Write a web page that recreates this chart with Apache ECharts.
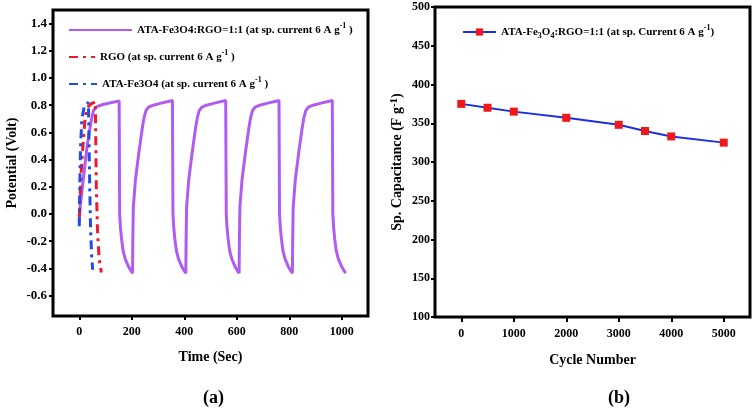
<!DOCTYPE html>
<html>
<head>
<meta charset="utf-8">
<script src="https://cdn.jsdelivr.net/npm/echarts@6/dist/echarts.min.js"></script>
<style>
  html, body { margin: 0; padding: 0; background: #fff; }
</style>
</head>
<body>
<div id="main" style="width:756px;height:408px"></div>
<script>
// (a) galvanostatic charge-discharge, [time, potential]
var hybridGcd = [
  [0, -0.05], [4, 0.06], [15, 0.25], [30, 0.5], [45, 0.68], [54, 0.76], [67, 0.79], [90, 0.805], [120, 0.818], [152, 0.832],
  [153, 0.4], [154, 0.0], [157, -0.1], [161, -0.18], [167, -0.27], [175, -0.33], [186, -0.38], [196, -0.415], [203, -0.435],
  [204, -0.2], [206, 0.05], [214, 0.25], [227, 0.45], [240, 0.63], [247, 0.71], [254, 0.76], [264, 0.785], [282, 0.8], [312, 0.815], [355, 0.835],
  [356, 0.4], [357, 0.0], [360, -0.1], [364, -0.18], [370, -0.27], [378, -0.33], [389, -0.38], [399, -0.415], [406, -0.435],
  [407, -0.2], [409, 0.05], [417, 0.25], [430, 0.45], [443, 0.63], [450, 0.71], [457, 0.76], [467, 0.785], [485, 0.8], [515, 0.815], [558, 0.835],
  [559, 0.4], [560, 0.0], [563, -0.1], [567, -0.18], [573, -0.27], [581, -0.33], [592, -0.38], [602, -0.415], [609, -0.435],
  [610, -0.2], [612, 0.05], [620, 0.25], [633, 0.45], [646, 0.63], [653, 0.71], [660, 0.76], [670, 0.785], [688, 0.8], [718, 0.815], [761, 0.835],
  [762, 0.4], [763, 0.0], [766, -0.1], [770, -0.18], [776, -0.27], [784, -0.33], [795, -0.38], [805, -0.415], [812, -0.435],
  [813, -0.2], [815, 0.05], [823, 0.25], [836, 0.45], [849, 0.63], [856, 0.71], [863, 0.76], [873, 0.785], [891, 0.8], [921, 0.815], [964, 0.835],
  [965, 0.4], [966, 0.0], [969, -0.1], [973, -0.18], [979, -0.27], [987, -0.33], [998, -0.38], [1008, -0.415], [1015, -0.435]
]
var rgoGcd = [
  [0, -0.02], [3, 0.1], [7, 0.3], [14, 0.5], [22, 0.7], [30, 0.78], [45, 0.81], [61, 0.825],
  [62, 0.7], [65, 0.2], [70, -0.15], [76, -0.33], [84, -0.43]
]
var fe3o4Gcd = [
  [0, -0.09], [2, 0.2], [5, 0.5], [10, 0.7], [20, 0.8], [35, 0.82],
  [37, 0.55], [40, 0.2], [43, -0.1], [47, -0.3], [51, -0.41]
]
var potentialTicks = [-0.6, -0.4, -0.2, 0, 0.2, 0.4, 0.6, 0.8, 1.0, 1.2, 1.4]
var timeTicks = [0, 200, 400, 600, 800, 1000]

// (b) cycling stability
var cycles = [0, 500, 1000, 2000, 3000, 3500, 4000, 5000]
var capacitance = [375, 370, 365, 357, 348, 340, 333, 325]
var cycleTicks = [0, 1000, 2000, 3000, 4000, 5000]

var serif = 'Liberation Serif'
var capData = cycles.map(function (c, i) { return [c, capacitance[i]] })

function richSet (size) {
  return {
    a: { fontFamily: serif, fontWeight: 'bold', fontSize: size, color: '#000', lineHeight: 16 },
    sup: { fontFamily: serif, fontWeight: 'bold', fontSize: size - 3, color: '#000', verticalAlign: 'top', lineHeight: 16, padding: [0, 0, 6, 0] },
    sub: { fontFamily: serif, fontWeight: 'bold', fontSize: size - 3, color: '#000', verticalAlign: 'bottom', lineHeight: 16, padding: [5, 0, 0, 0] }
  }
}
var tickLabel = { fontFamily: serif, fontWeight: 'bold', fontSize: 12, color: '#000' }
var nameStyle = { fontFamily: serif, fontWeight: 'bold', fontSize: 14, color: '#000' }
var plain = function (v) { return String(v) }

function legendFor (name, top, width) {
  return {
    data: [name],
    left: 63,
    top: top,
    orient: 'vertical',
    itemWidth: width,
    itemHeight: 14,
    itemStyle: { opacity: 0 },
    textStyle: { rich: richSet(11) },
    formatter: function (n) {
      if (n === 'hybrid') return '{a|ATA-Fe3O4:RGO=1:1 (at sp. current 6 A g}{sup|-1}{a| )}'
      if (n === 'rgo') return '{a|RGO (at sp. current 6 A g}{sup|-1}{a| )}'
      return '{a|ATA-Fe3O4 (at sp. current 6 A g}{sup|-1}{a| )}'
    }
  }
}

var myChart = echarts.init(document.getElementById('main'))
var option = {
  animation: false,
  title: [
    { text: '(a)', left: 198, top: 384, textStyle: { fontFamily: serif, fontWeight: 'bold', fontSize: 18, color: '#000' } },
    { text: '(b)', left: 603, top: 384, textStyle: { fontFamily: serif, fontWeight: 'bold', fontSize: 18, color: '#000' } }
  ],
  legend: [
    legendFor('hybrid', 17, 63),
    legendFor('rgo', 44, 26),
    legendFor('fe3o4', 71, 28),
    {
      data: ['capacity'],
      left: 457,
      top: 19,
      itemWidth: 33,
      itemHeight: 9,
      textStyle: { rich: richSet(11) },
      formatter: function () {
        return '{a|ATA-Fe}{sub|3}{a|O}{sub|4}{a|:RGO=1:1 (at sp. Current 6 A g}{sup|-1}{a|)}'
      }
    }
  ],
  grid: [
    { left: 53, top: 10, width: 315, height: 306, show: true, borderColor: '#000', borderWidth: 3, backgroundColor: 'transparent' },
    { left: 435, top: 7, width: 315, height: 310, show: true, borderColor: '#000', borderWidth: 3, backgroundColor: 'transparent' }
  ],
  xAxis: [
    {
      gridIndex: 0,
      type: 'value',
      min: -100,
      max: 1100,
      name: 'Time (Sec)',
      nameLocation: 'middle',
      nameGap: 34,
      nameTextStyle: nameStyle,
      axisLine: { show: false, onZero: false },
      splitLine: { show: false },
      axisTick: { show: true, length: 4, lineStyle: { color: '#000', width: 2 }, customValues: timeTicks },
      axisLabel: Object.assign({ margin: 10, customValues: timeTicks, formatter: plain }, tickLabel)
    },
    {
      gridIndex: 1,
      type: 'value',
      min: -500,
      max: 5500,
      name: 'Cycle Number',
      nameLocation: 'middle',
      nameGap: 36,
      nameTextStyle: nameStyle,
      axisLine: { show: false, onZero: false },
      splitLine: { show: false },
      axisTick: { show: true, length: 5, lineStyle: { color: '#000', width: 2 }, customValues: cycleTicks },
      axisLabel: Object.assign({ margin: 11, customValues: cycleTicks, formatter: plain }, tickLabel)
    }
  ],
  yAxis: [
    {
      gridIndex: 0,
      type: 'value',
      min: -0.75,
      max: 1.5,
      name: 'Potential (Volt)',
      nameLocation: 'middle',
      nameGap: 34,
      nameTextStyle: nameStyle,
      axisLine: { show: false, onZero: false },
      splitLine: { show: false },
      axisTick: { show: true, length: 4, lineStyle: { color: '#000', width: 2 }, customValues: potentialTicks },
      axisLabel: Object.assign({
        margin: 6,
        customValues: potentialTicks,
        formatter: function (v) { return v.toFixed(1) }
      }, tickLabel, { fontSize: 13 })
    },
    {
      gridIndex: 1,
      type: 'value',
      min: 100,
      max: 500,
      interval: 50,
      name: '{a|Sp. Capacitance (F g}{sup|-1}{a|)}',
      nameLocation: 'middle',
      nameGap: 30,
      nameTextStyle: { rich: richSet(14) },
      axisLine: { show: false, onZero: false },
      splitLine: { show: false },
      axisTick: { show: true, length: 4, lineStyle: { color: '#000', width: 2 } },
      axisLabel: Object.assign({ margin: 5, formatter: plain }, tickLabel)
    }
  ],
  series: [
    {
      name: 'hybrid',
      type: 'line',
      xAxisIndex: 0,
      yAxisIndex: 0,
      symbol: 'none',
      data: hybridGcd,
      lineStyle: { color: '#b05cf0', width: 3 },
      itemStyle: { color: '#b05cf0' },
      z: 2
    },
    {
      name: 'rgo',
      type: 'line',
      xAxisIndex: 0,
      yAxisIndex: 0,
      symbol: 'none',
      data: rgoGcd,
      lineStyle: { color: '#f2182c', width: 3, type: [9, 5, 3, 5] },
      itemStyle: { color: '#f2182c' },
      z: 3
    },
    {
      name: 'fe3o4',
      type: 'line',
      xAxisIndex: 0,
      yAxisIndex: 0,
      symbol: 'none',
      data: fe3o4Gcd,
      lineStyle: { color: '#1f4de6', width: 3, type: [9, 5, 3, 5] },
      itemStyle: { color: '#1f4de6' },
      z: 4
    },
    {
      name: 'capacity',
      type: 'line',
      xAxisIndex: 1,
      yAxisIndex: 1,
      symbol: 'rect',
      symbolSize: 8,
      data: capData,
      lineStyle: { color: '#1c2fe0', width: 2 },
      itemStyle: { color: '#f01818' }
    }
  ]
}
myChart.setOption(option)
</script>
</body>
</html>
